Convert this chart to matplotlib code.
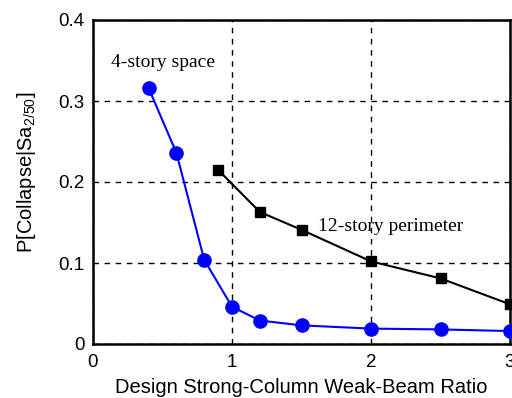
import matplotlib
matplotlib.use("Agg")
import matplotlib.pyplot as plt

# Collapse probability vs. design strong-column weak-beam ratio
scwb_space = [0.4, 0.6, 0.8, 1.0, 1.2, 1.5, 2.0, 2.5, 3.0]
p_space = [0.316, 0.236, 0.104, 0.046, 0.029, 0.023, 0.019, 0.018, 0.016]

scwb_perim = [0.9, 1.2, 1.5, 2.0, 2.5, 3.0]
p_perim = [0.215, 0.163, 0.141, 0.102, 0.081, 0.049]

xticks = [0, 1, 2, 3]
yticks = [0, 0.1, 0.2, 0.3, 0.4]
ytick_labels = ["0", "0.1", "0.2", "0.3", "0.4"]

plt.rcParams["font.family"] = ["Liberation Sans", "DejaVu Sans"]
plt.rcParams["mathtext.fontset"] = "custom"
plt.rcParams["mathtext.rm"] = "Liberation Sans"
plt.rcParams["mathtext.it"] = "Liberation Sans"

fig = plt.figure(figsize=(5.12, 3.98), dpi=100)
ax = fig.add_axes([93 / 512, 1 - 344 / 398, (510 - 93) / 512, (344 - 20) / 398])

ax.plot(scwb_space, p_space, color="#0000ff", lw=1.5, marker="o", ms=9.5,
        markerfacecolor="#0000ff", markeredgecolor="#0000ff", zorder=3, clip_on=False)
ax.plot(scwb_perim, p_perim, color="black", lw=1.5, marker="s", ms=7.5,
        markerfacecolor="black", markeredgecolor="black", zorder=3, clip_on=False)

ax.set_xlim(0, 3)
ax.set_ylim(0, 0.4)
ax.set_xticks(xticks)
ax.set_xticklabels([str(t) for t in xticks])
ax.set_yticks(yticks)
ax.set_yticklabels(ytick_labels)
ax.tick_params(axis="both", length=0, labelsize=13.5, colors="black")
ax.tick_params(axis="x", pad=7)
ax.tick_params(axis="y", pad=6)

ax.grid(True, color="black", linestyle=(0, (4, 4)), linewidth=1.0)
ax.set_axisbelow(True)
for s in ax.spines.values():
    s.set_linewidth(1.8)
    s.set_color("black")

ax.set_xlabel("Design Strong-Column Weak-Beam Ratio", fontsize=14.5)
ax.set_ylabel(r"P[Collapse|Sa$_{\mathrm{2/50}}$]", fontsize=14.5)
ax.xaxis.set_label_coords(0.5, -0.105)
ax.yaxis.set_label_coords(-0.132, 0.53)

ax.text(0.129, 0.342, "4-story space", family=["Liberation Serif"], fontsize=14,
        ha="left", va="baseline")
ax.text(1.62, 0.1395, "12-story perimeter", family=["Liberation Serif"], fontsize=14,
        ha="left", va="baseline")

fig.savefig("out.png", dpi=100)
